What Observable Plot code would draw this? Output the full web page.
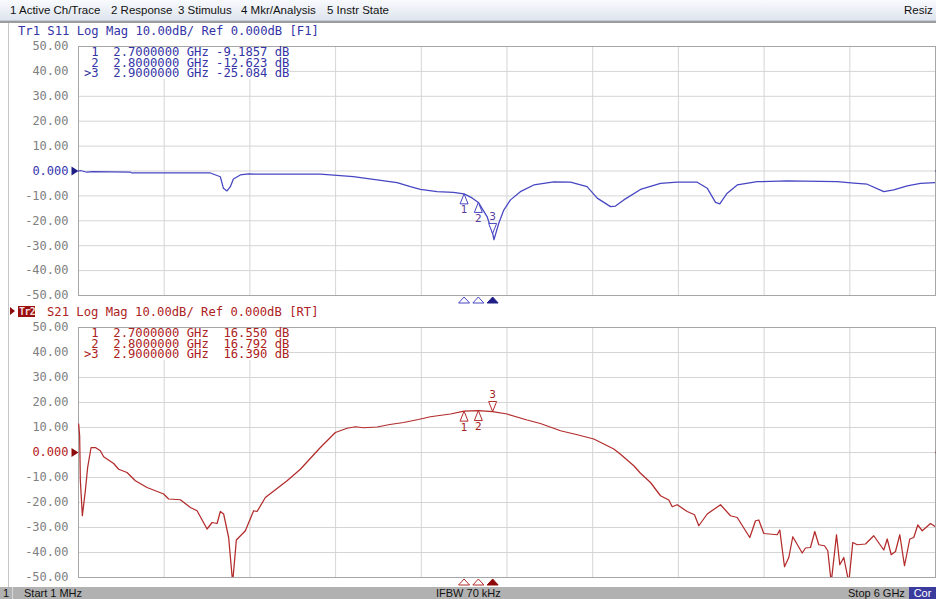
<!DOCTYPE html>
<html><head><meta charset="utf-8">
<script src="https://cdn.jsdelivr.net/npm/d3@7"></script>
<script src="https://cdn.jsdelivr.net/npm/@observablehq/plot@0.6"></script>
<style>
html,body{margin:0;padding:0;background:#fff;}
#wrap{position:relative;width:936px;height:599px;overflow:hidden;background:#fff;font-family:"DejaVu Sans Mono",monospace;}
.abs{position:absolute;white-space:pre;}
#menu{left:0;top:0;width:936px;height:20px;background:linear-gradient(#f8fafd,#dfe5ee);border-bottom:1px solid #c3ccd8;font-family:"Liberation Sans",Arial,sans-serif;font-size:11.5px;color:#111;}
#menu span{position:absolute;top:4px;}
#sep{left:0;top:21px;width:936px;height:2px;background:#9c9c9c;}
#lframe{left:8px;top:23px;width:1px;height:564px;background:#c6c6c6;}
.hdr{font-size:12.2px;line-height:12px;}
.tbl{background:#fff;font-size:12.2px;line-height:10.5px;padding:0 0 0 5px;}
#status{left:0;top:587px;width:936px;height:12px;background:#b1b1b1;font-family:"Liberation Sans",Arial,sans-serif;font-size:11px;color:#111;}
#status span{position:absolute;top:0px;line-height:12px;}
.plotbox{position:absolute;left:0;}
</style></head><body><div id="wrap">
<div id="menu" class="abs">
<span style="left:10px">1 Active Ch/Trace</span>
<span style="left:111px">2 Response</span>
<span style="left:178px">3 Stimulus</span>
<span style="left:241px">4 Mkr/Analysis</span>
<span style="left:327px">5 Instr State</span>
<span style="left:904px">Resiz</span>
</div>
<div id="sep" class="abs"></div>
<div id="lframe" class="abs"></div>
<div id="p1" class="plotbox" style="top:24px"></div>
<div id="p2" class="plotbox" style="top:305px"></div>
<div class="abs hdr" style="left:18px;top:25px;color:#3434a6">Tr1 S11 Log Mag 10.00dB/ Ref 0.000dB [F1]</div>
<div class="abs" style="left:10px;top:307px;width:0;height:0;border-top:4.5px solid transparent;border-bottom:4.5px solid transparent;border-left:5px solid #8a0c0c;"></div>
<div class="abs hdr" style="left:18px;top:306px;width:17px;height:11px;background:#9a0f0f;"></div>
<div class="abs hdr" style="left:19px;top:306px;color:#f2dede;font-size:10px;line-height:11px;font-weight:bold;letter-spacing:-0.6px">Tr2</div>
<div class="abs hdr" style="left:47px;top:306px;color:#ad2222">S21 Log Mag 10.00dB/ Ref 0.000dB [RT]</div>
<div id="t1" class="abs tbl" style="left:79px;top:47px;color:#3434a6"></div>
<div id="t2" class="abs tbl" style="left:79px;top:328px;color:#ad2222"></div>
<div id="status" class="abs">
<span style="left:3px">1</span>
<span style="left:12px;top:0;width:1px;height:12px;background:#d8d8d8"></span>
<span style="left:24px">Start 1 MHz</span>
<span style="left:436px">IFBW 70 kHz</span>
<span style="left:848px">Stop 6 GHz</span>
<span style="left:909px;width:27px;height:12px;background:#3b3b9e;color:#fff;text-align:center">Cor</span>
</div>
</div>
<script>
// ---- data (GHz, dB) ----
const s11Freq = [0.001,0.014,0.061,0.098,0.364,0.376,0.924,0.994,1.015,1.041,1.064,1.085,1.134,1.19,1.694,1.925,2.231,2.324,2.394,2.511,2.625,2.7,2.756,2.8,2.861,2.9,2.909,2.943,2.978,3.025,3.094,3.188,3.328,3.445,3.561,3.632,3.725,3.76,3.818,3.935,4.075,4.192,4.332,4.402,4.46,4.49,4.542,4.612,4.752,4.962,5.312,5.428,5.522,5.638,5.708,5.802,5.895,6.0];
const s11Db = [0.0,0.2,-0.5,-0.3,-0.5,-0.8,-0.8,-2.3,-6.9,-8.0,-6.3,-3.2,-1.6,-1.2,-1.3,-2.3,-4.7,-6.3,-7.4,-8.3,-8.6,-9.19,-10.8,-12.62,-18.3,-25.08,-27.6,-21.0,-15.7,-11.6,-8.3,-5.6,-4.4,-4.5,-6.3,-10.9,-14.3,-14.1,-11.6,-7.4,-5.0,-4.5,-4.5,-6.9,-12.6,-13.2,-8.9,-5.6,-4.3,-4.0,-4.3,-4.9,-5.3,-8.3,-7.6,-6.0,-5.0,-4.7];
const s21Freq = [0.002,0.009,0.014,0.028,0.049,0.065,0.089,0.119,0.154,0.177,0.247,0.282,0.341,0.399,0.481,0.597,0.632,0.714,0.784,0.831,0.901,0.936,0.971,0.994,1.017,1.052,1.08,1.106,1.169,1.227,1.251,1.309,1.461,1.554,1.694,1.799,1.881,1.94,1.997,2.091,2.18,2.277,2.38,2.464,2.604,2.7,2.8,2.9,3.001,3.141,3.234,3.375,3.5,3.608,3.748,3.795,3.888,3.935,4.005,4.075,4.133,4.157,4.192,4.262,4.313,4.343,4.402,4.495,4.565,4.612,4.7,4.74,4.763,4.798,4.892,4.91,4.943,4.973,5.001,5.067,5.09,5.125,5.155,5.183,5.223,5.246,5.27,5.307,5.33,5.358,5.393,5.421,5.452,5.51,5.568,5.638,5.662,5.69,5.72,5.75,5.783,5.82,5.848,5.876,5.907,5.965,6.0];
const s21Db = [11.4,6.7,-11.3,-25.3,-15.3,-6.0,2.0,2.0,0.7,-1.7,-4.4,-6.7,-8.0,-11.3,-14.0,-16.6,-18.6,-18.9,-22.0,-23.3,-30.6,-28.0,-28.4,-23.6,-24.6,-34.0,-52.0,-35.0,-31.3,-23.3,-23.6,-18.0,-11.3,-6.7,2.0,8.0,9.7,10.3,9.9,10.2,11.2,12.0,13.2,14.3,15.4,16.55,16.79,16.39,15.4,13.0,11.6,8.7,7.0,5.4,1.4,-0.7,-5.3,-8.3,-12.0,-17.3,-19.0,-21.7,-20.9,-23.6,-24.9,-29.3,-24.6,-20.9,-25.3,-26.0,-34.0,-27.3,-27.0,-32.4,-32.9,-31.0,-45.7,-42.0,-33.7,-40.2,-38.2,-38.0,-31.6,-36.9,-37.3,-39.3,-52.0,-32.9,-44.9,-42.0,-52.0,-36.0,-36.9,-36.6,-33.3,-39.0,-34.6,-40.9,-39.6,-32.9,-45.3,-34.6,-34.0,-29.0,-31.3,-28.4,-29.7];
const markerFreq = [2.7, 2.8, 2.9];
const s11Marker = [-9.1857, -12.623, -25.084];
const s21Marker = [16.550, 16.792, 16.390];
const markerLabels = ["1", "2", "3"];
const yTicks = [-50, -40, -30, -20, -10, 0, 10, 20, 30, 40, 50];
const xStart = 0.001, xStop = 6.0;
const xGrid = d3.range(0, 11).map(i => xStart + i * (xStop - xStart) / 10);

// ---- symbols ----
const upTri = {draw(c){c.moveTo(0,0);c.lineTo(4,10);c.lineTo(-4,10);c.closePath();}};
const downTri = {draw(c){c.moveTo(0,0);c.lineTo(4,-10);c.lineTo(-4,-10);c.closePath();}};
const smallUp = {draw(c){c.moveTo(0,-3);c.lineTo(5.5,3);c.lineTo(-5.5,3);c.closePath();}};
const refArrow = {draw(c){c.moveTo(0,0);c.lineTo(-7,-4.5);c.lineTo(-7,4.5);c.closePath();}};
const edgeTick = {draw(c){c.moveTo(0,0);c.lineTo(3,0);}};

function tableText(vals) {
  return vals.map((v, i) => (i === markerFreq.length - 1 ? ">" + (i + 1) : " " + (i + 1)) + "  " +
    markerFreq[i].toFixed(7) + " GHz " + v.toPrecision(5).padStart(7) + " dB").join("\n");
}
document.getElementById("t1").textContent = tableText(s11Marker);
document.getElementById("t2").textContent = tableText(s21Marker);

function chart({freq, db, mk, color, dark, zeroColor, labelColor, marginBottom}) {
  const data = freq.map((f, i) => ({f, db: db[i]}));
  const m = markerFreq.map((f, i) => ({f, db: mk[i], label: markerLabels[i]}));
  const passive = m.slice(0, 2), active = m.slice(2);
  return Plot.plot({
    width: 936, height: 282,
    marginLeft: 78, marginRight: 1, marginTop: 22, marginBottom,
    style: {fontFamily: "'DejaVu Sans Mono', monospace", fontSize: "12px", background: "transparent"},
    x: {domain: [xStart, xStop], axis: null, label: null},
    y: {domain: [-50, 50], label: null},
    marks: [
      Plot.gridX(xGrid, {stroke: "#d5d5d5", strokeOpacity: 1}),
      Plot.gridY(yTicks, {stroke: "#d5d5d5", strokeOpacity: 1}),
      Plot.frame({stroke: "#a6a6a6"}),
      Plot.axisY(yTicks.filter(v => v !== 0), {label: null, tickSize: 0, tickPadding: 10, tickFormat: d => d.toFixed(2), fill: "#808080", fontSize: 12}),
      Plot.axisY([0], {label: null, tickSize: 0, tickPadding: 10, tickFormat: () => "0.000", fill: zeroColor, fontSize: 12}),
      Plot.line(data, {x: "f", y: "db", stroke: color, strokeWidth: 1.25, clip: true}),
      Plot.dot(passive, {x: "f", y: "db", symbol: upTri, fill: "white", stroke: color, strokeWidth: 1}),
      Plot.dot(active, {x: "f", y: "db", symbol: downTri, fill: "white", stroke: color, strokeWidth: 1}),
      Plot.text(passive, {x: "f", y: "db", text: "label", dy: 16, fill: labelColor, fontFamily: "DejaVu Sans", fontSize: 10.5}),
      Plot.text(active, {x: "f", y: "db", text: "label", dy: -17, fill: labelColor, fontFamily: "DejaVu Sans", fontSize: 10.5}),
      Plot.dot(passive, {x: "f", frameAnchor: "bottom", dy: 4.5, symbol: smallUp, fill: "white", stroke: color, strokeWidth: 1}),
      Plot.dot(active, {x: "f", frameAnchor: "bottom", dy: 4.5, symbol: smallUp, fill: dark, stroke: dark, strokeWidth: 1}),
      Plot.dot([0], {y: d => d, frameAnchor: "left", symbol: refArrow, fill: dark, stroke: "none"}),
      Plot.dot([0], {y: d => d, frameAnchor: "right", symbol: edgeTick, stroke: dark, strokeWidth: 1.5, fill: "none"})
    ]
  });
}

document.getElementById("p1").appendChild(chart({
  freq: s11Freq, db: s11Db, mk: s11Marker, color: "#4646c2", dark: "#1e1e86",
  zeroColor: "#3434b0", labelColor: "#5a3c9e", marginBottom: 11
}));
document.getElementById("p2").appendChild(chart({
  freq: s21Freq, db: s21Db, mk: s21Marker, color: "#b32b2b", dark: "#8e0a0a",
  zeroColor: "#b52020", labelColor: "#a82424", marginBottom: 10
}));
</script>
</body></html>
